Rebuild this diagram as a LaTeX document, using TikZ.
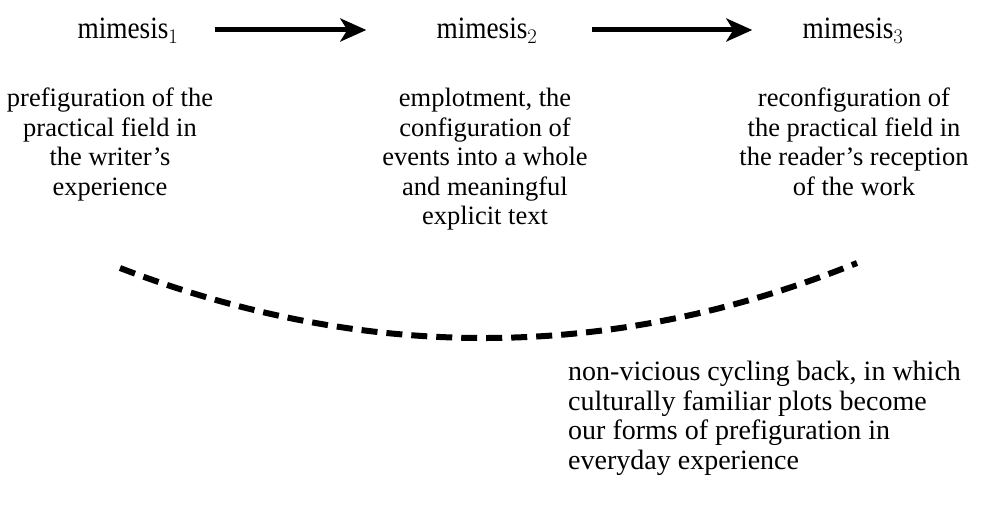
\documentclass[tikz,border=0pt]{standalone}
\usepackage{fontspec}
\setmainfont{Liberation Serif}
\newfontfamily\narrowserif[FakeStretch=0.88]{Liberation Serif}
\usetikzlibrary{arrows.meta}
\begin{document}
\begin{tikzpicture}[x=1pt,y=-1pt,
  toplabel/.style={inner sep=0pt,font=\narrowserif\fontsize{31}{34}\selectfont},
  body/.style={inner sep=0pt,align=center,font=\fontsize{26.5}{29.5}\selectfont},
  bodyleft/.style={inner sep=0pt,align=left,font=\fontsize{28}{29.5}\selectfont},
  bigarrow/.style={line width=5pt,-{Stealth[length=26pt,width=23pt,inset=7pt]}},
  cycle/.style={line width=6pt,dash pattern=on 16pt off 9pt}]
\useasboundingbox (0,0) rectangle (982,511);
\node[toplabel] (m1) at (128,31) {mimesis$_1$};
\node[toplabel] (m2) at (487,31) {mimesis$_2$};
\node[toplabel] (m3) at (853,31) {mimesis$_3$};
\draw[bigarrow] ([xshift=36pt,yshift=1pt]m1.east) -- ([xshift=-70pt,yshift=1pt]m2.west);
\draw[bigarrow] ([xshift=54pt,yshift=1pt]m2.east) -- ([xshift=-50pt,yshift=1pt]m3.west);
\node[body,anchor=north] (d1) at (110,88) {prefiguration of the\\practical field in\\the writer's\\experience};
\node[body,anchor=north] (d2) at (485,88) {emplotment, the\\configuration of\\events into a whole\\and meaningful\\explicit text};
\node[body,anchor=north] (d3) at (854,88) {reconfiguration of\\the practical field in\\the reader's reception\\of the work};
\node[bodyleft,anchor=north west] (d4) at (568,361) {non-vicious cycling back, in which\\culturally familiar plots become\\our forms of prefiguration in\\everyday experience};
\coordinate (cl) at (120,268);
\coordinate (cr) at (857,263);
\draw[cycle] (cl) .. controls (367.7,363) and (613.3,361.3) .. (cr);
\end{tikzpicture}
\end{document}
